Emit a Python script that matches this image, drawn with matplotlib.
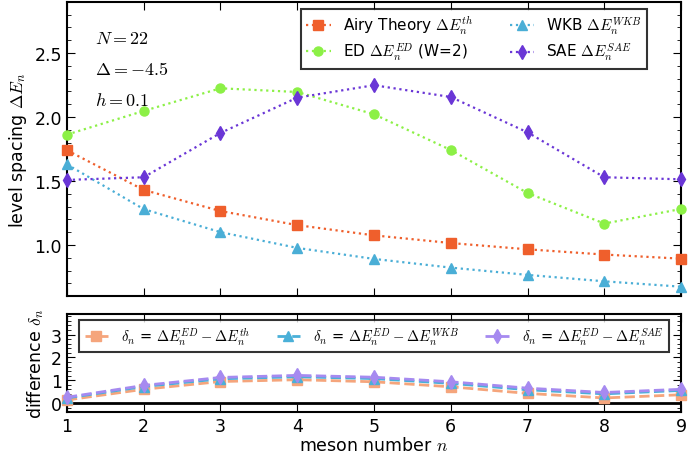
import matplotlib
matplotlib.use("Agg")
import matplotlib.pyplot as plt
from matplotlib.ticker import MultipleLocator

plt.rcParams['mathtext.fontset'] = 'cm'
plt.rcParams['font.family'] = ['DejaVu Sans']

n = [1, 2, 3, 4, 5, 6, 7, 8, 9]
airy = [1.74, 1.43, 1.265, 1.155, 1.075, 1.015, 0.966, 0.925, 0.893]
wkb = [1.63, 1.28, 1.10, 0.977, 0.891, 0.823, 0.766, 0.716, 0.674]
ed = [1.862, 2.047, 2.224, 2.195, 2.021, 1.742, 1.406, 1.167, 1.281]
sae = [1.508, 1.529, 1.875, 2.151, 2.248, 2.156, 1.88, 1.529, 1.513]

d_th = [0.13, 0.60, 0.94, 1.02, 0.93, 0.71, 0.42, 0.22, 0.36]
d_wkb = [0.22, 0.72, 1.06, 1.15, 1.07, 0.86, 0.58, 0.40, 0.55]
d_sae = [0.25, 0.77, 1.12, 1.21, 1.13, 0.93, 0.65, 0.46, 0.60]

c_airy = '#ef5f2c'
c_wkb = '#4aaed6'
c_ed = '#8cf046'
c_sae = '#6a36d6'
c_airy_l = '#f5a57c'
c_wkb_l = '#4ab0d8'
c_sae_l = '#a68af0'

fig = plt.figure(figsize=(6.9, 4.6), dpi=100)
ax1 = fig.add_axes([0.097, 0.354, 0.890, 0.640])
ax2 = fig.add_axes([0.097, 0.102, 0.890, 0.213])

kw = dict(ls=':', lw=1.6, ms=6.5, clip_on=False, zorder=3)
ax1.plot(n, airy, marker='s', color=c_airy, label=r'Airy Theory $\Delta E_n^{th}$', **kw)
ax1.plot(n, ed, marker='o', color=c_ed, label=r'ED $\Delta E_n^{ED}$ (W=2)', **kw)
ax1.plot(n, wkb, marker='^', color=c_wkb, label=r'WKB $\Delta E_n^{WKB}$', **kw)
ax1.plot(n, sae, marker='d', color=c_sae, label=r'SAE $\Delta E_n^{SAE}$', ms=7.5,
         ls=':', lw=1.6, clip_on=False, zorder=3)

ax1.set_xlim(1, 9)
ax1.set_ylim(0.6, 2.9)
ax1.yaxis.set_major_locator(MultipleLocator(0.5))
ax1.yaxis.set_minor_locator(MultipleLocator(0.1))
ax1.xaxis.set_major_locator(MultipleLocator(1))
ax1.tick_params(which='both', direction='in', top=True, right=True, labelsize=12.5)
ax1.tick_params(which='major', length=6)
ax1.tick_params(which='minor', length=3)
ax1.tick_params(axis='x', labelbottom=False)
ax1.set_ylabel(r'level spacing $\Delta E_n$', fontsize=12.5)
leg1 = ax1.legend(loc='upper right', bbox_to_anchor=(0.945, 0.976), ncol=2,
                  fontsize=11, frameon=True, fancybox=False, edgecolor='black',
                  borderaxespad=0.0, columnspacing=2.4, handlelength=1.6,
                  handletextpad=0.8, labelspacing=0.3, borderpad=0.35)
leg1.get_frame().set_linewidth(1.5)

ax1.text(0.045, 0.86, r'$N=22$', transform=ax1.transAxes, fontsize=13)
ax1.text(0.045, 0.755, r'$\Delta=-4.5$', transform=ax1.transAxes, fontsize=13)
ax1.text(0.045, 0.65, r'$h=0.1$', transform=ax1.transAxes, fontsize=13)

kw2 = dict(ls='--', lw=2, ms=7.5, clip_on=False, zorder=3)
ax2.plot(n, d_th, marker='s', color=c_airy_l, label=r'$\delta_n$ = $\Delta E_n^{ED} - \Delta E_n^{th}$', **kw2)
ax2.plot(n, d_wkb, marker='^', color=c_wkb_l, label=r'$\delta_n$ = $\Delta E_n^{ED} - \Delta E_n^{WKB}$', **kw2)
ax2.plot(n, d_sae, marker='d', color=c_sae_l, label=r'$\delta_n$ = $\Delta E_n^{ED} - \Delta E_n^{SAE}$', **kw2)
ax2.axhline(0, color='black', lw=2, zorder=2)

ax2.set_xlim(1, 9)
ax2.set_ylim(-0.4, 3.9)
ax2.yaxis.set_major_locator(MultipleLocator(1))
ax2.yaxis.set_minor_locator(MultipleLocator(0.2))
ax2.xaxis.set_major_locator(MultipleLocator(1))
ax2.tick_params(which='both', direction='in', top=True, right=True, labelsize=12.5)
ax2.tick_params(which='major', length=6)
ax2.tick_params(which='minor', length=3)
ax2.set_xlabel(r'meson number $n$', fontsize=12.5, labelpad=1)
ax2.set_ylabel(r'difference $\delta_n$', fontsize=12.5)
leg2 = ax2.legend(loc='upper center', ncol=3, fontsize=10.5, frameon=True,
                  fancybox=False, edgecolor='black', borderaxespad=0.4,
                  columnspacing=1.8, handlelength=1.6, handletextpad=0.9,
                  borderpad=0.35)
leg2.get_frame().set_linewidth(1.5)

for ax in (ax1, ax2):
    for s in ax.spines.values():
        s.set_linewidth(1.5)

fig.savefig('out.png', dpi=100)
